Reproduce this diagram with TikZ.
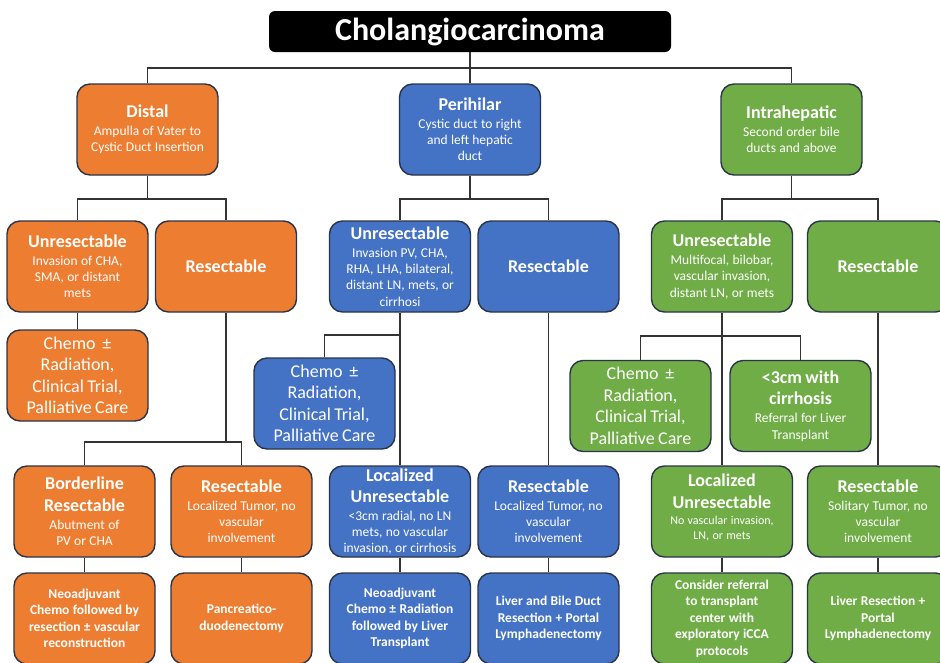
\documentclass[tikz,border=0pt]{standalone}
\usepackage{fontspec}
\setmainfont{Carlito}
\definecolor{cor}{HTML}{ED7D31}
\definecolor{cbl}{HTML}{4472C4}
\definecolor{cgr}{HTML}{70AD47}
\definecolor{cbd}{HTML}{2B3447}
\definecolor{cln}{HTML}{333333}
\newcommand\HeadT[1]{{\fontsize{18}{21.5}\selectfont\bfseries #1\par}\vspace{1.5pt}}
\newcommand\SubT[1]{{\fontsize{13.5}{16.3}\selectfont #1\par}}
\newcommand\SmallT[1]{{\fontsize{12}{15}\selectfont #1\par}}
\newcommand\ChemoT{{\fontsize{18}{21.5}\selectfont Chemo\ \ ±\\Radiation,\\Clinical Trial,\\Palliative Care\par}}
\newcommand\BotT[1]{{\fontsize{13.5}{16.5}\selectfont\bfseries #1\par}}
\begin{document}
\begin{tikzpicture}[x=1pt,y=-1pt,
  box/.style={draw=cbd,line width=1.4pt,rounded corners=13pt,text=white,
    minimum width=141pt,minimum height=91pt,text width=137pt,align=center,inner sep=1pt},
  orbox/.style={box,fill=cor},
  blbox/.style={box,fill=cbl},
  grbox/.style={box,fill=cgr},
  wire/.style={draw=cln,line width=1.8pt}]
\useasboundingbox (0,0) rectangle (940,662);
\clip (0,0) rectangle (940,662);
\fill[white] (0,0) rectangle (940,662);

% title
\node[fill=black,rounded corners=6pt,minimum width=402pt,minimum height=41pt,
  text=white,font=\fontsize{32}{36}\selectfont\bfseries,inner sep=0pt] (title) at (470,31.5) {Cholangiocarcinoma};

% level 1
\node[orbox] (distal) at (147.5,129.5) {\HeadT{Distal}\SubT{Ampulla of Vater to\\Cystic Duct Insertion}};
\node[blbox] (peri) at (470,129.5) {\HeadT{Perihilar}\SubT{Cystic duct to right\\and left hepatic\\duct}};
\node[grbox] (intra) at (791.5,129.5) {\HeadT{Intrahepatic}\SubT{Second order bile\\ducts and above}};

% level 2
\node[orbox] (dU) at (77.5,266.5) {\HeadT{Unresectable}\SubT{Invasion of CHA,\\SMA, or distant\\mets}};
\node[orbox] (dR) at (226,266.5) {\HeadT{Resectable}};
\node[blbox] (pU) at (400,266.5) {\HeadT{Unresectable}\SubT{Invasion PV, CHA,\\RHA, LHA, bilateral,\\distant LN, mets, or\\cirrhosi}};
\node[blbox] (pR) at (548.5,266.5) {\HeadT{Resectable}};
\node[grbox] (iU) at (722,266.5) {\HeadT{Unresectable}\SubT{Multifocal, bilobar,\\vascular invasion,\\distant LN, or mets}};
\node[grbox] (iR) at (878,266.5) {\HeadT{Resectable}};

% level 3
\node[orbox] (dChemo) at (77.5,375.5) {\ChemoT};
\node[blbox] (pChemo) at (324.5,403.5) {\ChemoT};
\node[grbox] (iChemo) at (640.5,406) {\ChemoT};
\node[grbox] (iCirr) at (800.5,406) {\HeadT{<3cm with\\cirrhosis}\SubT{Referral for Liver\\Transplant}};

% level 4
\node[orbox] (dB) at (84.5,511.5) {\HeadT{Borderline\\Resectable}\SubT{Abutment of\\PV or CHA}};
\node[orbox] (dR2) at (241.5,511.5) {\HeadT{Resectable}\SubT{Localized Tumor, no\\vascular\\involvement}};
\node[blbox] (pLoc) at (400,511.5) {\HeadT{Localized\\Unresectable}\SubT{<3cm radial, no LN\\mets, no vascular\\invasion, or cirrhosis}};
\node[blbox] (pR2) at (548.5,511.5) {\HeadT{Resectable}\SubT{Localized Tumor, no\\vascular\\involvement}};
\node[grbox] (iLoc) at (722,511.5) {\HeadT{Localized\\Unresectable}\SmallT{No vascular invasion,\\LN, or mets}\vspace{8pt}};
\node[grbox] (iR2) at (878,511.5) {\HeadT{Resectable}\SubT{Solitary Tumor, no\\vascular\\involvement}};

% level 5
\node[orbox] (dNeo) at (84.5,618.5) {\BotT{Neoadjuvant\\Chemo followed by\\resection ± vascular\\reconstruction}};
\node[orbox] (dPanc) at (241.5,618.5) {\BotT{Pancreatico-\\duodenectomy}};
\node[blbox] (pNeo) at (400,618.5) {\BotT{Neoadjuvant\\Chemo ± Radiation\\followed by Liver\\Transplant}};
\node[blbox] (pLiv) at (548.5,618.5) {\BotT{Liver and Bile Duct\\Resection + Portal\\Lymphadenectomy}};
\node[grbox] (iCon) at (722,618.5) {\BotT{Consider referral\\to transplant\\center with\\exploratory iCCA\\protocols}};
\node[grbox] (iLiv) at (878,618.5) {\BotT{Liver Resection +\\Portal\\Lymphadenectomy}};

% connectors
\coordinate (t1) at (470,68);
\draw[wire] (title.south) -- (peri.north);
\draw[wire] (distal.north) |- (t1) -| (intra.north);

\coordinate (dj) at (147.5,199);
\coordinate (pj) at (470,199);
\coordinate (ij) at (791.5,199);
\draw[wire] (distal.south) -- (dj);
\draw[wire] (dU.north) |- (dj) -| (dR.north);
\draw[wire] (peri.south) -- (pj);
\draw[wire] (pU.north) |- (pj) -| (pR.north);
\draw[wire] (intra.south) -- (ij);
\draw[wire] (iU.north) |- (ij) -| (iR.north);

\draw[wire] (dU.south) -- (dChemo.north);
\coordinate (dk) at (226,442);
\draw[wire] (dR.south) -- (dk);
\draw[wire] (dB.north) |- (dk) -| (dR2.north);
\draw[wire] (dB.south) -- (dNeo.north);
\draw[wire] (dR2.south) -- (dPanc.north);

\draw[wire] (pU.south) -- (pLoc.north);
\coordinate (pk) at (400,335);
\draw[wire] (pk) -| (pChemo.north);
\draw[wire] (pLoc.south) -- (pNeo.north);
\draw[wire] (pR.south) -- (pR2.north);
\draw[wire] (pR2.south) -- (pLiv.north);

\draw[wire] (iU.south) -- (iLoc.north);
\coordinate (ik) at (722,336);
\draw[wire] (iChemo.north) |- (ik) -| (iCirr.north);
\draw[wire] (iLoc.south) -- (iCon.north);
\draw[wire] (iR.south) -- (iR2.north);
\draw[wire] (iR2.south) -- (iLiv.north);
\end{tikzpicture}
\end{document}
